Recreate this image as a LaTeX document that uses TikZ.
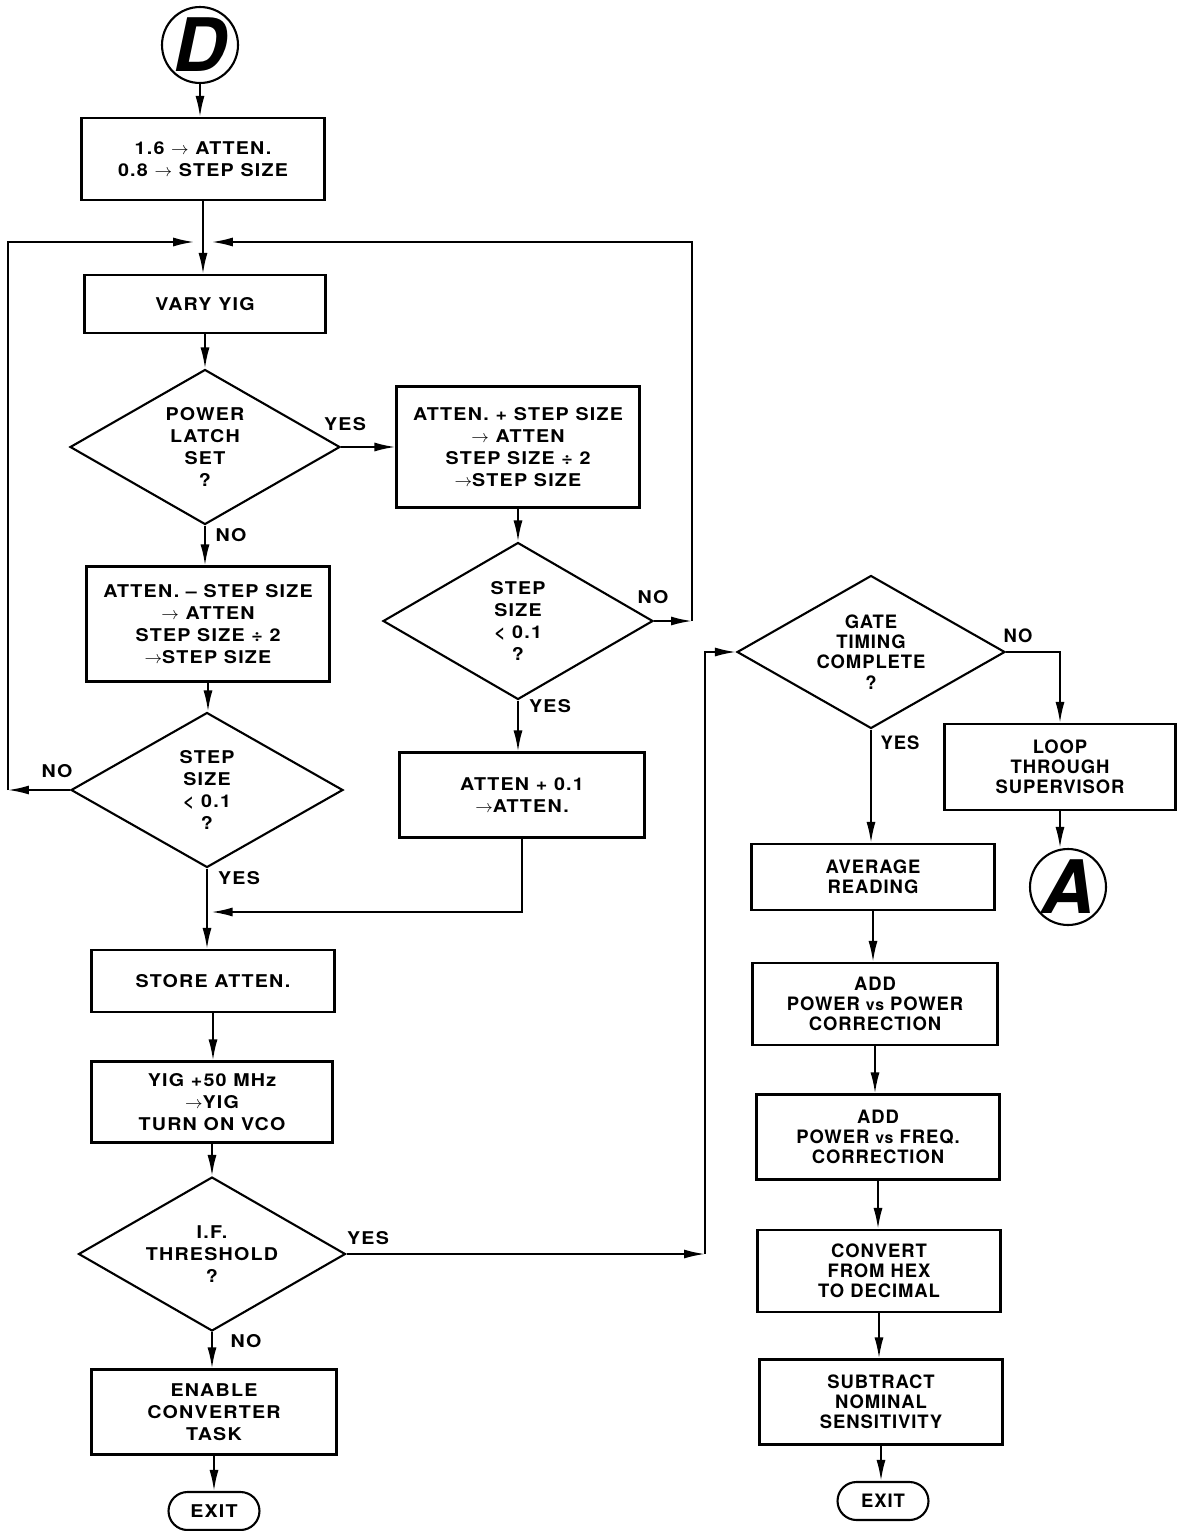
\documentclass[tikz,border=0pt]{standalone}
\usepackage{fontspec}
\setmainfont{TeX Gyre Heros}[FakeStretch=1.12, LetterSpace=7]
\newfontfamily\widefont{TeX Gyre Heros}[LetterSpace=5]
\newfontfamily\bigfont{TeX Gyre Heros}
\usetikzlibrary{shapes.geometric,shapes.misc,arrows.meta}

\tikzset{
  box/.style={draw, line width=1.2pt, rectangle, minimum width=4.86cm, minimum height=#1,
    align=center, inner sep=2pt, font=\fontsize{10}{12.5}\selectfont\bfseries},
  rbox/.style={box=#1, font=\widefont\fontsize{10.5}{11.5}\selectfont\bfseries},
  dec/.style={diamond, draw, line width=1.2pt, shape aspect=1.75, minimum width=5.4cm,
    minimum height=3.1cm, inner sep=0pt, align=center, font=\fontsize{10}{12.5}\selectfont\bfseries},
  conn/.style={circle, draw, line width=1.2pt, minimum size=1.52cm, inner sep=0pt,
    font=\bigfont\fontsize{42}{42}\selectfont\bfseries\itshape},
  term/.style={rounded rectangle, draw, line width=1.2pt, minimum width=1.96cm,
    minimum height=0.76cm, inner sep=2pt, font=\fontsize{10}{12}\selectfont\bfseries},
  lbl/.style={font=\fontsize{10}{12}\selectfont\bfseries}
}

\begin{document}
\begin{tikzpicture}[x=0.02cm, y=-0.02cm, line width=1.1pt, >={Latex[length=4.2mm,width=1.8mm]}]
    \useasboundingbox (0,0) rectangle (1180,1531);

    % left column
    \node[conn] (D) at (200,45) {D};
    \node[box=1.64cm] (start) at (203,159) {1.6 $\to$ ATTEN.\\0.8 $\to$ STEP SIZE};
    \coordinate (merge) at (203,242);
    \node[box=1.16cm, minimum width=4.82cm] (vary) at (205,304) {VARY YIG};
    \node[dec] (latch) at (205,447) {POWER\\LATCH\\SET\\?};
    \node[box=2.42cm] (up) at (518,447) {ATTEN. + STEP SIZE\\$\to$ ATTEN\\STEP SIZE ÷ 2\\$\to$STEP SIZE};
    \node[box=2.3cm] (down) at (208,624) {ATTEN. -- STEP SIZE\\$\to$ ATTEN\\STEP SIZE ÷ 2\\$\to$STEP SIZE};
    \node[dec, minimum width=5.44cm] (stepl) at (207,790) {STEP\\SIZE\\< 0.1\\?};
    \node[dec, minimum height=3.14cm] (stepr) at (518,621) {STEP\\SIZE\\< 0.1\\?};
    \node[box=1.7cm, minimum width=4.9cm] (plus) at (522,795) {ATTEN + 0.1\\$\to$ATTEN.};
    \coordinate (join) at (208,912);
    \node[box=1.24cm] (store) at (213,981) {STORE ATTEN.};
    \node[box=1.62cm, minimum width=4.82cm] (yig) at (212,1102) {YIG +50 MHz\\$\to$YIG\\TURN ON VCO};
    \node[dec, minimum width=5.34cm, minimum height=3.08cm] (thresh) at (212,1254) {I.F.\\THRESHOLD\\?};
    \node[box=1.7cm, minimum width=4.9cm] (enable) at (214,1412) {ENABLE\\CONVERTER\\TASK};
    \node[term] (exitl) at (214,1511) {EXIT};

    % right column
    \node[dec, minimum width=5.36cm, minimum height=3.06cm,
      font=\widefont\fontsize{10.5}{11.5}\selectfont\bfseries] (gate) at (871,652) {GATE\\TIMING\\COMPLETE\\?};
    \node[rbox=1.72cm, minimum width=4.62cm] (loop) at (1060,767) {LOOP\\THROUGH\\SUPERVISOR};
    \node[conn] (A) at (1068,887) {A};
    \node[rbox=1.32cm] (avg) at (873,877) {AVERAGE\\READING};
    \node[rbox=1.64cm, minimum width=4.9cm] (addp) at (875,1004) {ADD\\POWER {\small vs} POWER\\CORRECTION};
    \node[rbox=1.7cm] (addf) at (878,1137) {ADD\\POWER {\small vs} FREQ.\\CORRECTION};
    \node[rbox=1.64cm] (hex) at (879,1271) {CONVERT\\FROM HEX\\TO DECIMAL};
    \node[rbox=1.7cm] (sub) at (881,1402) {SUBTRACT\\NOMINAL\\SENSITIVITY};
    \node[term, font=\widefont\fontsize{10.5}{12}\selectfont\bfseries] (exitr) at (883,1501) {EXIT};

    % branch labels
    \node[lbl] (yes1) at (345,424) {YES};
    \node[lbl] (no1) at (231,535) {NO};
    \node[lbl] (no2) at (57,771) {NO};
    \node[lbl] (no3) at (653,597) {NO};
    \node[lbl] (yes2) at (550,706) {YES};
    \node[lbl] (yes3) at (239,878) {YES};
    \node[lbl] (yes4) at (368,1238) {YES};
    \node[lbl] (no4) at (246,1341) {NO};
    \node[lbl, font=\widefont\fontsize{10.5}{12}\selectfont\bfseries] (no5) at (1018,636) {NO};
    \node[lbl, font=\widefont\fontsize{10.5}{12}\selectfont\bfseries] (yes5) at (900,743) {YES};

    % flow lines
    \coordinate (lc) at (8,790);
    \coordinate (rc) at (692,621);
    \coordinate (bc) at (705,1254);
    \draw[->] (D) -- (D |- start.north);
    \draw (start) -- (start |- merge);
    \draw[->] (merge) -- (merge |- vary.north);
    \draw[->] (vary) -- (vary |- latch.north);
    \draw[->] (latch.east) -- (latch.east -| up.west);
    \draw[->] (latch) -- (latch |- down.north);
    \draw[->] (up) -- (up |- stepr.north);
    \draw[->] (down) -- (down |- stepl.north);
    \draw[->] (stepl.west) -- (lc);
    \draw[->, shorten >=5pt] (lc) |- (merge);
    \draw[->] (stepr.east) -- (rc);
    \draw[->, shorten >=5pt] (rc) |- (merge);
    \draw[->] (stepr) -- (stepr |- plus.north);
    \draw[->, shorten >=2pt] (plus) |- (join);
    \draw[->] (stepl) -- (stepl |- store.north);
    \draw[->] (store) -- (store |- yig.north);
    \draw[->] (yig) -- (yig |- thresh.north);
    \draw[->] (thresh) -- (thresh |- enable.north);
    \draw[->] (enable) -- (enable |- exitl.north);
    \draw[->] (thresh.east) -- (bc);
    \draw[->] (bc) |- (gate.west);
    \draw[->] (gate.east) -| (loop.north);
    \draw[->] (loop) -- (loop |- A.north);
    \draw[->] (gate) -- (gate |- avg.north);
    \draw[->] (avg) -- (avg |- addp.north);
    \draw[->] (addp) -- (addp |- addf.north);
    \draw[->] (addf) -- (addf |- hex.north);
    \draw[->] (hex) -- (hex |- sub.north);
    \draw[->] (sub) -- (sub |- exitr.north);
\end{tikzpicture}
\end{document}
